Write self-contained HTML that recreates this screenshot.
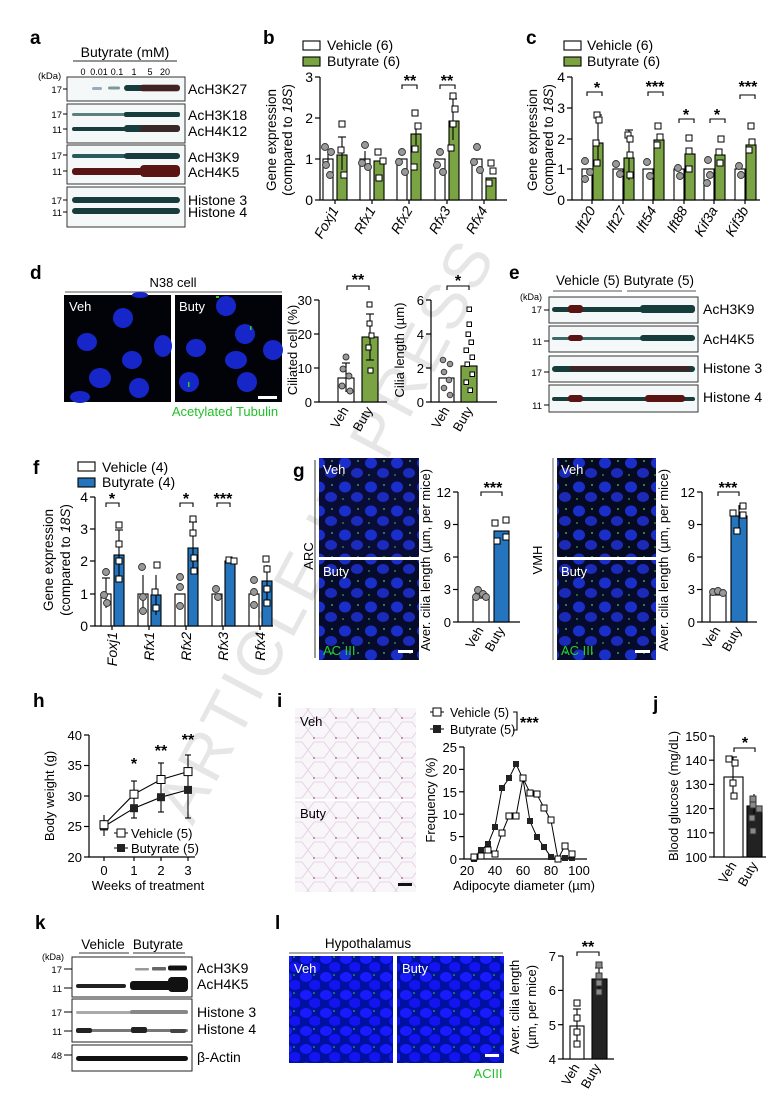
<!DOCTYPE html>
<html><head><meta charset="utf-8"><style>
html,body{margin:0;padding:0;background:#fff;}
svg{display:block;font-family:"Liberation Sans",Arial,sans-serif;}
.pl{font-weight:bold;font-size:19px;}
.t{font-size:13px;}
.s{font-size:10px;}
.ax{stroke:#000;stroke-width:1.2;fill:none;}
.eb{stroke:#000;stroke-width:1.1;}
.vb{fill:#fff;stroke:#000;stroke-width:1.1;}
.gb{fill:#7aa443;stroke:#000;stroke-width:1.1;}
.bb{fill:#2474be;stroke:#000;stroke-width:1.1;}
.kb{fill:#222;stroke:#000;stroke-width:1.1;}
.gc{fill:#999;stroke:#333;stroke-width:0.9;}
.ws{fill:#fff;stroke:#000;stroke-width:1;}
.band{fill:#163c3c;}
.red{fill:#5a1414;}
.box{fill:#f4f8f8;stroke:#333;stroke-width:1;}
</style></head><body>
<svg width="780" height="1112" viewBox="0 0 780 1112" xmlns="http://www.w3.org/2000/svg">
<defs>
<pattern id="nucS" width="26" height="24" patternUnits="userSpaceOnUse">
<rect width="26" height="24" fill="#04060e"/>
<ellipse cx="7" cy="7" rx="6" ry="5.5" fill="#1a30c8"/><ellipse cx="19" cy="17" rx="6" ry="5" fill="#1c2cb4"/>
<circle cx="20" cy="5" r="1" fill="#2ec02e"/><circle cx="5" cy="19" r="0.9" fill="#2ec02e"/>
</pattern>
<pattern id="nucD" width="20" height="18" patternUnits="userSpaceOnUse">
<rect width="20" height="18" fill="#0010a0"/>
<ellipse cx="6" cy="5" rx="6" ry="5" fill="#1a1aff"/><ellipse cx="15" cy="13" rx="6" ry="5" fill="#1414f0"/>
<circle cx="14" cy="3" r="0.8" fill="#33dd33"/>
</pattern>
<pattern id="histo" width="22" height="20" patternUnits="userSpaceOnUse">
<rect width="22" height="20" fill="#f8f6f8"/>
<path d="M0 10 L6 2 L16 2 L22 10 L16 18 L6 18 Z" fill="none" stroke="#e2cce4" stroke-width="0.8"/>
<circle cx="6" cy="18" r="0.9" fill="#b04a9a"/>
</pattern>
</defs>

<!-- watermark -->
<text x="345" y="540" text-anchor="middle" font-size="64" fill="#e6e6e6" transform="rotate(-62 345 540)" letter-spacing="4">ARTICLE IN PRESS</text>

<!-- ===== a ===== -->
<text class="pl" x="30" y="44">a</text>
<text x="125" y="57" text-anchor="middle" font-size="14">Butyrate (mM)</text>
<line x1="73" y1="61" x2="177" y2="61" stroke="#555" stroke-width="1.2"/>
<g text-anchor="middle" font-size="9"><text x="83" y="75">0</text><text x="99" y="75">0.01</text><text x="117" y="75">0.1</text><text x="134" y="75">1</text><text x="150" y="75">5</text><text x="165" y="75">20</text></g>
<text x="38" y="79" font-size="9.5">(kDa)</text>
<rect class="box" x="67" y="77" width="118" height="24"/>
<rect class="box" x="67" y="104" width="118" height="39"/>
<rect class="box" x="67" y="145" width="118" height="39"/>
<rect class="box" x="67" y="187" width="118" height="40"/>
<rect x="92" y="87" width="10" height="3" rx="1.5" fill="#9ab"/><rect x="108" y="86.5" width="12" height="3" rx="1.5" fill="#7a9a9a"/>
<rect x="124" y="85" width="56" height="6" rx="3" class="band"/><rect x="140" y="84.5" width="40" height="7" rx="3" class="red" opacity=".6"/>
<rect x="72" y="113" width="108" height="3" rx="1.5" fill="#5a8080"/><rect x="124" y="112" width="56" height="5" rx="2" class="band"/>
<rect x="72" y="127" width="108" height="4" rx="2" class="band"/><rect x="124" y="125" width="56" height="7" rx="3" class="band"/><rect x="140" y="125" width="40" height="7" rx="3" class="red" opacity=".5"/>
<rect x="72" y="154" width="108" height="4" rx="2" fill="#2a5a5a"/><rect x="124" y="153" width="56" height="6" rx="3" class="band"/>
<rect x="72" y="168" width="108" height="7" rx="3" class="red"/><rect x="140" y="165" width="40" height="12" rx="4" class="red"/>
<rect x="72" y="197" width="108" height="6" rx="3" class="band"/>
<rect x="72" y="208" width="108" height="6" rx="3" class="band"/>
<g font-size="9.5" text-anchor="end"><text x="62" y="93">17</text><text x="62" y="118">17</text><text x="62" y="133">11</text><text x="62" y="159">17</text><text x="62" y="175">11</text><text x="62" y="204">17</text><text x="62" y="216">11</text></g>
<g stroke="#000"><line x1="63" y1="89" x2="67" y2="89"/><line x1="63" y1="114" x2="67" y2="114"/><line x1="63" y1="129" x2="67" y2="129"/><line x1="63" y1="155" x2="67" y2="155"/><line x1="63" y1="171" x2="67" y2="171"/><line x1="63" y1="200" x2="67" y2="200"/><line x1="63" y1="212" x2="67" y2="212"/></g>
<g font-size="14"><text x="188" y="94">AcH3K27</text><text x="188" y="120">AcH3K18</text><text x="188" y="136">AcH4K12</text><text x="188" y="162">AcH3K9</text><text x="188" y="177">AcH4K5</text><text x="188" y="205">Histone 3</text><text x="188" y="217">Histone 4</text></g>

<!-- ===== b ===== -->
<text class="pl" x="263" y="44">b</text>
<rect x="303" y="41" width="17" height="9" class="vb"/><text x="327" y="50" font-size="14">Vehicle (6)</text>
<rect x="303" y="57" width="17" height="9" class="gb"/><text x="327" y="66" font-size="14">Butyrate (6)</text>
<g transform="rotate(-90 276 140)"><text x="276" y="140" text-anchor="middle" font-size="13.5">Gene expression</text></g>
<g transform="rotate(-90 292 140)"><text x="292" y="140" text-anchor="middle" font-size="13.5">(compared to <tspan font-style="italic">18S</tspan>)</text></g>
<path class="ax" d="M320 77 V200 H507"/>
<g class="ax"><line x1="315" y1="77" x2="320" y2="77"/><line x1="315" y1="118" x2="320" y2="118"/><line x1="315" y1="159" x2="320" y2="159"/><line x1="315" y1="200" x2="320" y2="200"/></g>
<g font-size="14" text-anchor="end"><text x="313" y="82">3</text><text x="313" y="123">2</text><text x="313" y="164">1</text><text x="313" y="205">0</text></g>
<rect class="vb" x="323" y="159" width="10" height="41"/><rect class="gb" x="337" y="155" width="10" height="45"/>
<rect class="vb" x="360" y="159" width="10" height="41"/><rect class="gb" x="374" y="161" width="10" height="39"/>
<rect class="vb" x="397" y="159" width="10" height="41"/><rect class="gb" x="411" y="134" width="10" height="66"/>
<rect class="vb" x="435" y="159" width="10" height="41"/><rect class="gb" x="449" y="121" width="10" height="79"/>
<rect class="vb" x="472" y="159" width="10" height="41"/><rect class="gb" x="486" y="178" width="10" height="22"/>
<g class="eb"><line x1="342" y1="137" x2="342" y2="170"/><line x1="338" y1="137" x2="346" y2="137"/><line x1="416" y1="124" x2="416" y2="145"/><line x1="453" y1="99" x2="453" y2="140"/><line x1="449" y1="99" x2="457" y2="99"/><line x1="328" y1="150" x2="328" y2="168"/><line x1="365" y1="151" x2="365" y2="167"/></g>
<g class="gc"><circle cx="325" cy="147" r="3.5"/><circle cx="331" cy="152" r="3.5"/><circle cx="326" cy="165" r="3.5"/><circle cx="330" cy="175" r="3.5"/><circle cx="365" cy="145" r="3.5"/><circle cx="362" cy="163" r="3.5"/><circle cx="368" cy="167" r="3.5"/><circle cx="402" cy="152" r="3.5"/><circle cx="399" cy="162" r="3.5"/><circle cx="405" cy="172" r="3.5"/><circle cx="440" cy="152" r="3.5"/><circle cx="437" cy="165" r="3.5"/><circle cx="443" cy="172" r="3.5"/><circle cx="477" cy="147" r="3.5"/><circle cx="474" cy="162" r="3.5"/><circle cx="480" cy="170" r="3.5"/></g>
<g class="ws"><rect x="339" y="121" width="6" height="6"/><rect x="338" y="147" width="6" height="6"/><rect x="341" y="172" width="6" height="6"/><rect x="375" y="149" width="6" height="6"/><rect x="380" y="158" width="6" height="6"/><rect x="376" y="175" width="6" height="6"/><rect x="412" y="110" width="6" height="6"/><rect x="415" y="123" width="6" height="6"/><rect x="412" y="146" width="6" height="6"/><rect x="411" y="164" width="6" height="6"/><rect x="450" y="93" width="6" height="6"/><rect x="452" y="106" width="6" height="6"/><rect x="450" y="121" width="6" height="6"/><rect x="448" y="145" width="6" height="6"/><rect x="488" y="160" width="6" height="6"/><rect x="490" y="168" width="6" height="6"/><rect x="486" y="180" width="6" height="6"/></g>
<g class="ax"><line x1="335" y1="200" x2="335" y2="204"/><line x1="372" y1="200" x2="372" y2="204"/><line x1="409" y1="200" x2="409" y2="204"/><line x1="447" y1="200" x2="447" y2="204"/><line x1="484" y1="200" x2="484" y2="204"/></g>
<g font-size="14" font-style="italic" text-anchor="end">
<text x="339" y="210" transform="rotate(-60 339 210)">Foxj1</text><text x="376" y="210" transform="rotate(-60 376 210)">Rfx1</text><text x="413" y="210" transform="rotate(-60 413 210)">Rfx2</text><text x="451" y="210" transform="rotate(-60 451 210)">Rfx3</text><text x="488" y="210" transform="rotate(-60 488 210)">Rfx4</text></g>
<path class="eb" fill="none" d="M402 89 V85 H417 V89 M440 89 V85 H455 V89"/>
<g font-size="16" text-anchor="middle" font-weight="bold"><text x="410" y="86">**</text><text x="447" y="86">**</text></g>

<!-- ===== c ===== -->
<text class="pl" x="526" y="44">c</text>
<rect x="564" y="41" width="17" height="9" class="vb"/><text x="587" y="50" font-size="14">Vehicle (6)</text>
<rect x="564" y="57" width="17" height="9" class="gb"/><text x="587" y="66" font-size="14">Butyrate (6)</text>
<g transform="rotate(-90 537 140)"><text x="537" y="140" text-anchor="middle" font-size="13.5">Gene expression</text></g>
<g transform="rotate(-90 553 140)"><text x="553" y="140" text-anchor="middle" font-size="13.5">(compared to <tspan font-style="italic">18S</tspan>)</text></g>
<path class="ax" d="M572 77 V200 H760"/>
<g class="ax"><line x1="567" y1="77" x2="572" y2="77"/><line x1="567" y1="108" x2="572" y2="108"/><line x1="567" y1="139" x2="572" y2="139"/><line x1="567" y1="169" x2="572" y2="169"/><line x1="567" y1="200" x2="572" y2="200"/></g>
<g font-size="14" text-anchor="end"><text x="565" y="82">4</text><text x="565" y="113">3</text><text x="565" y="144">2</text><text x="565" y="174">1</text><text x="565" y="205">0</text></g>
<g class="vb"><rect x="582" y="169" width="10" height="31"/><rect x="613" y="169" width="10" height="31"/><rect x="643" y="169" width="10" height="31"/><rect x="674" y="169" width="10" height="31"/><rect x="704" y="169" width="10" height="31"/><rect x="735" y="169" width="10" height="31"/></g>
<g class="gb"><rect x="593" y="143" width="10" height="57"/><rect x="624" y="158" width="10" height="42"/><rect x="654" y="140" width="10" height="60"/><rect x="685" y="154" width="10" height="46"/><rect x="715" y="155" width="10" height="45"/><rect x="746" y="145" width="10" height="55"/></g>
<g class="eb"><line x1="598" y1="115" x2="598" y2="160"/><line x1="594" y1="115" x2="602" y2="115"/><line x1="629" y1="130" x2="629" y2="180"/><line x1="625" y1="130" x2="633" y2="130"/></g>
<g class="gc"><circle cx="585" cy="161" r="3.5"/><circle cx="590" cy="172" r="3.5"/><circle cx="585" cy="179" r="3.5"/><circle cx="616" cy="164" r="3.5"/><circle cx="620" cy="174" r="3.5"/><circle cx="647" cy="162" r="3.5"/><circle cx="650" cy="176" r="3.5"/><circle cx="678" cy="168" r="3.5"/><circle cx="680" cy="176" r="3.5"/><circle cx="708" cy="160" r="3.5"/><circle cx="710" cy="175" r="3.5"/><circle cx="707" cy="183" r="3.5"/><circle cx="739" cy="166" r="3.5"/><circle cx="741" cy="175" r="3.5"/></g>
<g class="ws"><rect x="594" y="112" width="6" height="6"/><rect x="596" y="117" width="6" height="6"/><rect x="593" y="140" width="6" height="6"/><rect x="594" y="160" width="6" height="6"/><rect x="625" y="132" width="6" height="6"/><rect x="627" y="136" width="6" height="6"/><rect x="627" y="152" width="6" height="6"/><rect x="627" y="172" width="6" height="6"/><rect x="655" y="123" width="6" height="6"/><rect x="657" y="134" width="6" height="6"/><rect x="654" y="142" width="6" height="6"/><rect x="686" y="135" width="6" height="6"/><rect x="686" y="148" width="6" height="6"/><rect x="686" y="166" width="6" height="6"/><rect x="718" y="136" width="6" height="6"/><rect x="716" y="149" width="6" height="6"/><rect x="717" y="160" width="6" height="6"/><rect x="748" y="123" width="6" height="6"/><rect x="749" y="139" width="6" height="6"/><rect x="746" y="147" width="6" height="6"/></g>
<g class="ax"><line x1="592" y1="200" x2="592" y2="204"/><line x1="623" y1="200" x2="623" y2="204"/><line x1="653" y1="200" x2="653" y2="204"/><line x1="684" y1="200" x2="684" y2="204"/><line x1="714" y1="200" x2="714" y2="204"/><line x1="745" y1="200" x2="745" y2="204"/></g>
<g font-size="14" font-style="italic" text-anchor="end">
<text x="596" y="210" transform="rotate(-60 596 210)">Ift20</text><text x="627" y="210" transform="rotate(-60 627 210)">Ift27</text><text x="657" y="210" transform="rotate(-60 657 210)">Ift54</text><text x="688" y="210" transform="rotate(-60 688 210)">Ift88</text><text x="718" y="210" transform="rotate(-60 718 210)">Kif3a</text><text x="749" y="210" transform="rotate(-60 749 210)">Kif3b</text></g>
<path class="eb" fill="none" d="M587 96 V92 H602 V96 M648 96 V92 H663 V96 M679 123 V119 H694 V123 M710 123 V119 H725 V123 M740 99 V95 H755 V99"/>
<g font-size="16" text-anchor="middle" font-weight="bold"><text x="597" y="93">*</text><text x="655" y="92">***</text><text x="686" y="120">*</text><text x="717" y="120">*</text><text x="748" y="92">***</text></g>

<!-- ===== d ===== -->
<text class="pl" x="30" y="279">d</text>
<text x="173" y="287" text-anchor="middle" font-size="13">N38 cell</text>
<line x1="65" y1="292" x2="282" y2="292" stroke="#777" stroke-width="1.2"/>
<rect x="64" y="295" width="107" height="107" fill="#020308"/>
<rect x="175" y="295" width="107" height="107" fill="#020308"/>
<g fill="#1626c8">
<ellipse cx="123" cy="318" rx="10" ry="10"/><ellipse cx="87" cy="342" rx="10" ry="9"/><ellipse cx="163" cy="346" rx="9" ry="11"/><ellipse cx="132" cy="360" rx="10" ry="9"/><ellipse cx="100" cy="378" rx="11" ry="10"/><ellipse cx="139" cy="388" rx="10" ry="10"/><ellipse cx="80" cy="397" rx="10" ry="6"/><ellipse cx="140" cy="295" rx="8" ry="3"/>
<ellipse cx="226" cy="306" rx="10" ry="10"/><ellipse cx="245" cy="334" rx="10" ry="10"/><ellipse cx="196" cy="348" rx="10" ry="9"/><ellipse cx="236" cy="360" rx="11" ry="9"/><ellipse cx="273" cy="350" rx="10" ry="10"/><ellipse cx="247" cy="382" rx="10" ry="10"/><ellipse cx="189" cy="382" rx="10" ry="10"/></g>
<g fill="#2ad02a"><rect x="250" y="326" width="1.5" height="4"/><rect x="188" y="382" width="1.5" height="5"/><rect x="216" y="296" width="3" height="2"/></g>
<text x="69" y="311" fill="#fff" font-size="13">Veh</text><text x="179" y="311" fill="#fff" font-size="13">Buty</text>
<rect x="258" y="396" width="19" height="3" fill="#fff"/>
<text x="225" y="416" text-anchor="middle" fill="#22c02a" font-size="13">Acetylated Tubulin</text>
<g transform="rotate(-90 297 350)"><text x="297" y="350" text-anchor="middle" font-size="13">Ciliated cell (%)</text></g>
<path class="ax" d="M319 300 V402 H387"/>
<g class="ax"><line x1="314" y1="300" x2="319" y2="300"/><line x1="314" y1="334" x2="319" y2="334"/><line x1="314" y1="368" x2="319" y2="368"/><line x1="314" y1="402" x2="319" y2="402"/></g>
<g font-size="13" text-anchor="end"><text x="312" y="305">30</text><text x="312" y="339">20</text><text x="312" y="373">10</text><text x="312" y="407">0</text></g>
<rect class="vb" x="338" y="378" width="16" height="24"/><rect class="gb" x="362" y="337" width="16" height="65"/>
<g class="eb"><line x1="346" y1="363" x2="346" y2="392"/><line x1="342" y1="363" x2="350" y2="363"/><line x1="370" y1="314" x2="370" y2="360"/><line x1="366" y1="314" x2="374" y2="314"/><line x1="366" y1="360" x2="374" y2="360"/></g>
<g class="gc"><circle cx="346" cy="357" r="3"/><circle cx="343" cy="369" r="3"/><circle cx="349" cy="376" r="3"/><circle cx="342" cy="386" r="3"/><circle cx="350" cy="391" r="3"/></g>
<g class="ws"><rect x="367" y="302" width="5" height="5"/><rect x="367" y="321" width="5" height="5"/><rect x="369" y="333" width="5" height="5"/><rect x="366" y="345" width="5" height="5"/><rect x="368" y="368" width="5" height="5"/></g>
<path class="eb" fill="none" d="M347 290 V286 H369 V290"/><text x="358" y="285" text-anchor="middle" font-size="16" font-weight="bold">**</text>
<text x="349" y="410" text-anchor="end" font-size="13" transform="rotate(-60 349 410)">Veh</text>
<text x="373" y="410" text-anchor="end" font-size="13" transform="rotate(-60 373 410)">Buty</text>
<g transform="rotate(-90 404 350)"><text x="404" y="350" text-anchor="middle" font-size="13">Cilia length (µm)</text></g>
<path class="ax" d="M431 300 V402 H497"/>
<g class="ax"><line x1="426" y1="300" x2="431" y2="300"/><line x1="426" y1="334" x2="431" y2="334"/><line x1="426" y1="368" x2="431" y2="368"/><line x1="426" y1="402" x2="431" y2="402"/></g>
<g font-size="13" text-anchor="end"><text x="424" y="305">6</text><text x="424" y="339">4</text><text x="424" y="373">2</text><text x="424" y="407">0</text></g>
<rect class="vb" x="439" y="378" width="15" height="24"/><rect class="gb" x="461" y="366" width="16" height="36"/>
<g class="gc"><circle cx="443" cy="360" r="2.8"/><circle cx="450" cy="364" r="2.8"/><circle cx="444" cy="372" r="2.8"/><circle cx="449" cy="380" r="2.8"/><circle cx="444" cy="388" r="2.8"/><circle cx="450" cy="395" r="2.8"/></g>
<g class="ws"><rect x="467" y="307" width="4.5" height="4.5"/><rect x="467" y="322" width="4.5" height="4.5"/><rect x="466" y="332" width="4.5" height="4.5"/><rect x="469" y="340" width="4.5" height="4.5"/><rect x="464" y="348" width="4.5" height="4.5"/><rect x="470" y="355" width="4.5" height="4.5"/><rect x="465" y="362" width="4.5" height="4.5"/><rect x="470" y="372" width="4.5" height="4.5"/><rect x="464" y="380" width="4.5" height="4.5"/><rect x="468" y="388" width="4.5" height="4.5"/></g>
<path class="eb" fill="none" d="M447 290 V286 H469 V290"/><text x="458" y="286" text-anchor="middle" font-size="16" font-weight="bold">*</text>
<text x="450" y="410" text-anchor="end" font-size="13" transform="rotate(-60 450 410)">Veh</text>
<text x="473" y="410" text-anchor="end" font-size="13" transform="rotate(-60 473 410)">Buty</text>

<!-- ===== e ===== -->
<text class="pl" x="509" y="279">e</text>
<text x="625" y="285" text-anchor="middle" font-size="13.5">Vehicle (5) Butyrate (5)</text>
<line x1="553" y1="291" x2="622" y2="291" stroke="#555"/><line x1="627" y1="291" x2="696" y2="291" stroke="#555"/>
<text x="520" y="300" font-size="9">(kDa)</text>
<rect class="box" x="549" y="297" width="149" height="26"/><rect class="box" x="549" y="326" width="149" height="26"/><rect class="box" x="549" y="356" width="149" height="26"/><rect class="box" x="549" y="385" width="149" height="27"/>
<rect x="552" y="307" width="143" height="5" rx="2.5" class="band"/><rect x="568" y="305" width="15" height="8" rx="3" class="red"/><rect x="640" y="305" width="55" height="8" rx="3" class="band"/>
<rect x="552" y="337" width="143" height="3" rx="1.5" fill="#3a6a6a"/><rect x="568" y="335" width="15" height="6" rx="3" class="red"/><rect x="640" y="335" width="55" height="6" rx="3" class="band"/>
<rect x="552" y="366" width="143" height="6" rx="3" class="band"/><rect x="570" y="366" width="120" height="5" rx="2" class="red" opacity=".6"/>
<rect x="552" y="397" width="143" height="4" rx="2" class="band"/><rect x="568" y="395" width="15" height="7" rx="3" class="red"/><rect x="645" y="395" width="40" height="7" rx="3" class="red"/>
<g font-size="9.5" text-anchor="end"><text x="542" y="313">17</text><text x="542" y="345">11</text><text x="542" y="376">17</text><text x="542" y="409">11</text></g>
<g stroke="#000"><line x1="544" y1="310" x2="549" y2="310"/><line x1="544" y1="341" x2="549" y2="341"/><line x1="544" y1="372" x2="549" y2="372"/><line x1="544" y1="405" x2="549" y2="405"/></g>
<g font-size="14"><text x="703" y="314">AcH3K9</text><text x="703" y="344">AcH4K5</text><text x="703" y="373">Histone 3</text><text x="703" y="402">Histone 4</text></g>

<!-- ===== f ===== -->
<text class="pl" x="33" y="474">f</text>
<rect x="78" y="462" width="17" height="9" class="vb"/><text x="102" y="472" font-size="14">Vehicle (4)</text>
<rect x="78" y="478" width="17" height="9" class="bb"/><text x="102" y="487" font-size="14">Butyrate (4)</text>
<g transform="rotate(-90 53 560)"><text x="53" y="560" text-anchor="middle" font-size="13.5">Gene expression</text></g>
<g transform="rotate(-90 70 560)"><text x="70" y="560" text-anchor="middle" font-size="13.5">(compared to <tspan font-style="italic">18S</tspan>)</text></g>
<path class="ax" d="M95 497 V626 H273"/>
<g class="ax"><line x1="90" y1="497" x2="95" y2="497"/><line x1="90" y1="529" x2="95" y2="529"/><line x1="90" y1="561" x2="95" y2="561"/><line x1="90" y1="594" x2="95" y2="594"/><line x1="90" y1="626" x2="95" y2="626"/></g>
<g font-size="14" text-anchor="end"><text x="88" y="502">4</text><text x="88" y="534">3</text><text x="88" y="566">2</text><text x="88" y="599">1</text><text x="88" y="631">0</text></g>
<g class="vb"><rect x="101" y="594" width="10" height="32"/><rect x="138" y="594" width="10" height="32"/><rect x="175" y="594" width="10" height="32"/><rect x="212" y="594" width="10" height="32"/><rect x="249" y="594" width="10" height="32"/></g>
<g class="bb"><rect x="114" y="555" width="10" height="71"/><rect x="151" y="595" width="10" height="31"/><rect x="188" y="548" width="10" height="78"/><rect x="225" y="561" width="10" height="65"/><rect x="262" y="581" width="10" height="45"/></g>
<g class="eb"><line x1="106" y1="578" x2="106" y2="608"/><line x1="102" y1="578" x2="110" y2="578"/><line x1="119" y1="530" x2="119" y2="578"/><line x1="115" y1="530" x2="123" y2="530"/><line x1="143" y1="575" x2="143" y2="610"/><line x1="156" y1="575" x2="156" y2="615"/><line x1="193" y1="522" x2="193" y2="574"/><line x1="189" y1="522" x2="197" y2="522"/><line x1="267" y1="565" x2="267" y2="600"/></g>
<g class="gc"><circle cx="106" cy="572" r="3.5"/><circle cx="104" cy="595" r="3.5"/><circle cx="107" cy="603" r="3.5"/><circle cx="142" cy="567" r="3.5"/><circle cx="143" cy="597" r="3.5"/><circle cx="143" cy="611" r="3.5"/><circle cx="180" cy="577" r="3.5"/><circle cx="180" cy="587" r="3.5"/><circle cx="180" cy="606" r="3.5"/><circle cx="216" cy="589" r="3.5"/><circle cx="218" cy="597" r="3.5"/><circle cx="254" cy="580" r="3.5"/><circle cx="254" cy="592" r="3.5"/><circle cx="254" cy="605" r="3.5"/></g>
<g class="ws"><rect x="116" y="522" width="6" height="6"/><rect x="116" y="541" width="6" height="6"/><rect x="116" y="558" width="6" height="6"/><rect x="116" y="576" width="6" height="6"/><rect x="154" y="562" width="6" height="6"/><rect x="152" y="589" width="6" height="6"/><rect x="153" y="605" width="6" height="6"/><rect x="190" y="516" width="6" height="6"/><rect x="190" y="530" width="6" height="6"/><rect x="191" y="555" width="6" height="6"/><rect x="191" y="568" width="6" height="6"/><rect x="226" y="557" width="6" height="6"/><rect x="231" y="558" width="6" height="6"/><rect x="263" y="556" width="6" height="6"/><rect x="264" y="566" width="6" height="6"/><rect x="264" y="586" width="6" height="6"/><rect x="264" y="600" width="6" height="6"/></g>
<g class="ax"><line x1="112" y1="626" x2="112" y2="630"/><line x1="149" y1="626" x2="149" y2="630"/><line x1="186" y1="626" x2="186" y2="630"/><line x1="223" y1="626" x2="223" y2="630"/><line x1="260" y1="626" x2="260" y2="630"/></g>
<g font-size="14" font-style="italic" text-anchor="end">
<text x="117" y="632" transform="rotate(-90 117 632)">Foxj1</text><text x="154" y="632" transform="rotate(-90 154 632)">Rfx1</text><text x="191" y="632" transform="rotate(-90 191 632)">Rfx2</text><text x="228" y="632" transform="rotate(-90 228 632)">Rfx3</text><text x="265" y="632" transform="rotate(-90 265 632)">Rfx4</text></g>
<path class="eb" fill="none" d="M106 507 V503 H119 V507 M180 507 V503 H193 V507 M217 507 V503 H230 V507"/>
<g font-size="16" text-anchor="middle" font-weight="bold"><text x="112" y="504">*</text><text x="186" y="504">*</text><text x="223" y="504">***</text></g>

<!-- ===== g ===== -->
<text class="pl" x="293" y="477">g</text>
<line x1="315" y1="460" x2="315" y2="658" stroke="#333" stroke-width="1"/>
<text x="313" y="556" text-anchor="middle" font-size="13" transform="rotate(-90 313 556)">ARC</text>
<rect x="319" y="458" width="100" height="99" fill="url(#nucS)"/>
<rect x="319" y="560" width="100" height="100" fill="url(#nucS)"/>
<rect x="319" y="458" width="100" height="99" fill="#1a2ad8" opacity=".2"/>
<rect x="319" y="560" width="100" height="100" fill="#1a2ad8" opacity=".15"/>
<text x="323" y="474" fill="#fff" font-size="13">Veh</text><text x="323" y="576" fill="#fff" font-size="13">Buty</text>
<text x="323" y="655" fill="#22d022" font-size="13">AC III</text>
<rect x="398" y="650" width="15" height="3" fill="#fff"/>
<g transform="rotate(-90 430 560)"><text x="430" y="560" text-anchor="middle" font-size="13">Aver. cilia length (µm, per mice)</text></g>
<path class="ax" d="M458 492 V622 H520"/>
<g class="ax"><line x1="453" y1="492" x2="458" y2="492"/><line x1="453" y1="524.5" x2="458" y2="524.5"/><line x1="453" y1="557" x2="458" y2="557"/><line x1="453" y1="589.5" x2="458" y2="589.5"/><line x1="453" y1="622" x2="458" y2="622"/></g>
<g font-size="13" text-anchor="end"><text x="451" y="497">12</text><text x="451" y="529">9</text><text x="451" y="562">6</text><text x="451" y="594">3</text><text x="451" y="627">0</text></g>
<rect class="vb" x="473" y="598" width="16" height="24"/><rect class="bb" x="494" y="531" width="15" height="91"/>
<g class="gc"><circle cx="478" cy="590" r="3.5"/><circle cx="483" cy="594" r="3.5"/><circle cx="476" cy="597" r="3.5"/><circle cx="486" cy="597" r="3.5"/></g>
<g class="ws"><rect x="492" y="520" width="6" height="6"/><rect x="503" y="517" width="6" height="6"/><rect x="494" y="538" width="6" height="6"/><rect x="503" y="534" width="6" height="6"/></g>
<path class="eb" fill="none" d="M481 496 V492 H502 V496"/><text x="493" y="493" text-anchor="middle" font-size="16" font-weight="bold">***</text>
<text x="484" y="630" text-anchor="end" font-size="13" transform="rotate(-60 484 630)">Veh</text>
<text x="505" y="630" text-anchor="end" font-size="13" transform="rotate(-60 505 630)">Buty</text>

<line x1="553" y1="458" x2="553" y2="660" stroke="#999" stroke-width="1.5"/>
<text x="542" y="560" text-anchor="middle" font-size="13" transform="rotate(-90 542 560)">VMH</text>
<rect x="557" y="458" width="99" height="99" fill="url(#nucS)"/>
<rect x="557" y="560" width="99" height="100" fill="url(#nucS)"/>
<rect x="557" y="458" width="99" height="99" fill="#1a2ad8" opacity=".1"/>
<rect x="557" y="560" width="99" height="100" fill="#1a2ad8" opacity=".15"/>
<text x="561" y="474" fill="#fff" font-size="13">Veh</text><text x="561" y="576" fill="#fff" font-size="13">Buty</text>
<text x="561" y="655" fill="#22d022" font-size="13">AC III</text>
<rect x="635" y="650" width="15" height="3" fill="#fff"/>
<g transform="rotate(-90 668 560)"><text x="668" y="560" text-anchor="middle" font-size="13">Aver. cilia length (µm, per mice)</text></g>
<path class="ax" d="M702 492 V622 H757"/>
<g class="ax"><line x1="697" y1="492" x2="702" y2="492"/><line x1="697" y1="524.5" x2="702" y2="524.5"/><line x1="697" y1="557" x2="702" y2="557"/><line x1="697" y1="589.5" x2="702" y2="589.5"/><line x1="697" y1="622" x2="702" y2="622"/></g>
<g font-size="13" text-anchor="end"><text x="695" y="497">12</text><text x="695" y="529">9</text><text x="695" y="562">6</text><text x="695" y="594">3</text><text x="695" y="627">0</text></g>
<rect class="vb" x="710" y="595" width="16" height="27"/><rect class="bb" x="731" y="516" width="16" height="106"/>
<g class="eb"><line x1="739" y1="505" x2="739" y2="528"/></g>
<g class="gc"><circle cx="713" cy="592" r="3.5"/><circle cx="718" cy="591" r="3.5"/><circle cx="723" cy="593" r="3.5"/></g>
<g class="ws"><rect x="730" y="510" width="6" height="6"/><rect x="740" y="503" width="6" height="6"/><rect x="740" y="512" width="6" height="6"/><rect x="734" y="528" width="6" height="6"/></g>
<path class="eb" fill="none" d="M718 496 V492 H739 V496"/><text x="728" y="493" text-anchor="middle" font-size="16" font-weight="bold">***</text>
<text x="721" y="630" text-anchor="end" font-size="13" transform="rotate(-60 721 630)">Veh</text>
<text x="742" y="630" text-anchor="end" font-size="13" transform="rotate(-60 742 630)">Buty</text>

<!-- ===== h ===== -->
<text class="pl" x="33" y="707">h</text>
<g transform="rotate(-90 54 796)"><text x="54" y="796" text-anchor="middle" font-size="13">Body weight (g)</text></g>
<path class="ax" d="M89 735 V857 H195"/>
<g class="ax"><line x1="84" y1="735" x2="89" y2="735"/><line x1="84" y1="765.5" x2="89" y2="765.5"/><line x1="84" y1="796" x2="89" y2="796"/><line x1="84" y1="826.5" x2="89" y2="826.5"/><line x1="84" y1="857" x2="89" y2="857"/><line x1="104" y1="857" x2="104" y2="861"/><line x1="134" y1="857" x2="134" y2="861"/><line x1="161" y1="857" x2="161" y2="861"/><line x1="188" y1="857" x2="188" y2="861"/></g>
<g font-size="13" text-anchor="end"><text x="82" y="740">40</text><text x="82" y="770">35</text><text x="82" y="801">30</text><text x="82" y="831">25</text><text x="82" y="862">20</text></g>
<g font-size="13" text-anchor="middle"><text x="104" y="875">0</text><text x="134" y="875">1</text><text x="161" y="875">2</text><text x="188" y="875">3</text><text x="148" y="890">Weeks of treatment</text></g>
<g class="eb"><line x1="104" y1="815" x2="104" y2="836"/><line x1="134" y1="781" x2="134" y2="818"/><line x1="161" y1="763" x2="161" y2="812"/><line x1="188" y1="755" x2="188" y2="818"/><line x1="131" y1="781" x2="137" y2="781"/><line x1="158" y1="763" x2="164" y2="763"/><line x1="185" y1="755" x2="191" y2="755"/><line x1="131" y1="818" x2="137" y2="818"/><line x1="158" y1="812" x2="164" y2="812"/><line x1="185" y1="818" x2="191" y2="818"/></g>
<polyline points="104,824.7 134,794.2 161,779.5 188,771.6" fill="none" stroke="#000" stroke-width="1.1"/>
<polyline points="104,826.5 134,808.2 161,797.2 188,789.9" fill="none" stroke="#000" stroke-width="1.1"/>
<g fill="#222"><rect x="100" y="822.5" width="8" height="8"/><rect x="130" y="804.2" width="8" height="8"/><rect x="157" y="793.2" width="8" height="8"/><rect x="184" y="785.9" width="8" height="8"/></g>
<g class="ws"><rect x="100" y="820.7" width="8" height="8"/><rect x="130" y="790.2" width="8" height="8"/><rect x="157" y="775.5" width="8" height="8"/><rect x="184" y="767.6" width="8" height="8"/></g>
<g font-size="16" text-anchor="middle" font-weight="bold"><text x="134" y="769">*</text><text x="161" y="756">**</text><text x="188" y="745">**</text></g>
<line x1="114" y1="833" x2="128" y2="833" stroke="#000"/><rect x="117" y="829" width="8" height="8" class="ws"/><text x="131" y="838" font-size="13">Vehicle (5)</text>
<line x1="114" y1="848" x2="128" y2="848" stroke="#000"/><rect x="117" y="844" width="8" height="8" fill="#222"/><text x="131" y="853" font-size="13">Butyrate (5)</text>

<!-- ===== i ===== -->
<text class="pl" x="277" y="707">i</text>
<rect x="295" y="708" width="121" height="91" fill="url(#histo)"/>
<rect x="295" y="801" width="121" height="91" fill="url(#histo)"/>
<text x="300" y="726" font-size="13">Veh</text><text x="300" y="818" font-size="13">Buty</text>
<rect x="398" y="883" width="14" height="3" fill="#111"/>
<line x1="430" y1="712" x2="444" y2="712" stroke="#000"/><rect x="433" y="708" width="8" height="8" class="ws"/><text x="450" y="717" font-size="12.5">Vehicle (5)</text>
<line x1="430" y1="729" x2="444" y2="729" stroke="#000"/><rect x="433" y="725" width="8" height="8" fill="#222"/><text x="450" y="734" font-size="12.5">Butyrate (5)</text>
<path class="eb" fill="none" d="M513 712 H517 V730 H513"/><text x="520" y="728" font-size="16" font-weight="bold">***</text>
<g transform="rotate(-90 435 800)"><text x="435" y="800" text-anchor="middle" font-size="13">Frequency (%)</text></g>
<path class="ax" d="M464 747 V859 H587"/>
<g class="ax"><line x1="459" y1="747" x2="464" y2="747"/><line x1="459" y1="769.4" x2="464" y2="769.4"/><line x1="459" y1="791.8" x2="464" y2="791.8"/><line x1="459" y1="814.2" x2="464" y2="814.2"/><line x1="459" y1="836.6" x2="464" y2="836.6"/><line x1="459" y1="859" x2="464" y2="859"/></g>
<g font-size="13" text-anchor="end"><text x="457" y="752">25</text><text x="457" y="774">20</text><text x="457" y="797">15</text><text x="457" y="819">10</text><text x="457" y="841">5</text><text x="457" y="864">0</text></g>
<g font-size="13" text-anchor="middle"><text x="467" y="875">20</text><text x="495" y="875">40</text><text x="523" y="875">60</text><text x="551" y="875">80</text><text x="579" y="875">100</text><text x="524" y="890">Adipocyte diameter (µm)</text></g>
<polyline fill="none" stroke="#000" stroke-width="1" points="474,859 481,850 488,844.2 495,826.7 502,788.2 509,778.4 516,764 523,778.9 530,821.4 537,837 544,846.9 551,857.2 558,859 565,857.7 572,858"/>
<polyline fill="none" stroke="#000" stroke-width="1" points="474,856.8 481,855.9 488,850 495,854.5 502,833 509,816 516,816 523,778.4 530,792.7 537,794.5 544,807.9 551,820.5 558,859 565,845.6 572,854.5"/>
<g fill="#222"><rect x="471" y="856" width="6" height="6"/><rect x="478" y="847" width="6" height="6"/><rect x="485" y="841" width="6" height="6"/><rect x="492" y="824" width="6" height="6"/><rect x="499" y="785" width="6" height="6"/><rect x="506" y="775" width="6" height="6"/><rect x="513" y="761" width="6" height="6"/><rect x="527" y="818" width="6" height="6"/><rect x="534" y="834" width="6" height="6"/><rect x="541" y="844" width="6" height="6"/><rect x="548" y="854" width="6" height="6"/><rect x="562" y="855" width="6" height="6"/><rect x="569" y="855" width="6" height="6"/></g>
<g class="ws"><rect x="471" y="854" width="6" height="6"/><rect x="478" y="853" width="6" height="6"/><rect x="485" y="847" width="6" height="6"/><rect x="492" y="851" width="6" height="6"/><rect x="499" y="830" width="6" height="6"/><rect x="506" y="813" width="6" height="6"/><rect x="513" y="813" width="6" height="6"/><rect x="520" y="775" width="6" height="6"/><rect x="527" y="790" width="6" height="6"/><rect x="534" y="791" width="6" height="6"/><rect x="541" y="805" width="6" height="6"/><rect x="548" y="817" width="6" height="6"/><rect x="555" y="856" width="6" height="6"/><rect x="562" y="843" width="6" height="6"/><rect x="569" y="851" width="6" height="6"/></g>

<!-- ===== j ===== -->
<text class="pl" x="653" y="710">j</text>
<g transform="rotate(-90 678 796)"><text x="678" y="796" text-anchor="middle" font-size="13">Blood glucose (mg/dL)</text></g>
<path class="ax" d="M714 736 V857 H766"/>
<g class="ax"><line x1="709" y1="736" x2="714" y2="736"/><line x1="709" y1="760.2" x2="714" y2="760.2"/><line x1="709" y1="784.4" x2="714" y2="784.4"/><line x1="709" y1="808.6" x2="714" y2="808.6"/><line x1="709" y1="832.8" x2="714" y2="832.8"/><line x1="709" y1="857" x2="714" y2="857"/></g>
<g font-size="13" text-anchor="end"><text x="707" y="741">150</text><text x="707" y="765">140</text><text x="707" y="789">130</text><text x="707" y="814">120</text><text x="707" y="838">110</text><text x="707" y="862">100</text></g>
<rect class="vb" x="724" y="777" width="19" height="80"/><rect class="kb" x="747" y="806" width="15" height="51"/>
<g class="eb"><line x1="733" y1="757" x2="733" y2="797"/><line x1="729" y1="757" x2="737" y2="757"/><line x1="754" y1="794" x2="754" y2="818"/></g>
<g class="ws"><rect x="726" y="756" width="6" height="6"/><rect x="732" y="760" width="6" height="6"/><rect x="730" y="780" width="6" height="6"/><rect x="731" y="793" width="6" height="6"/></g>
<g fill="#888" stroke="#333"><rect x="750" y="796" width="6" height="6"/><rect x="750" y="802" width="6" height="6"/><rect x="756" y="806" width="6" height="6"/><rect x="749" y="815" width="6" height="6"/><rect x="750" y="828" width="6" height="6"/></g>
<path class="eb" fill="none" d="M734 752 V748 H755 V752"/><text x="745" y="748" text-anchor="middle" font-size="16" font-weight="bold">*</text>
<text x="737" y="865" text-anchor="end" font-size="13" transform="rotate(-60 737 865)">Veh</text>
<text x="758" y="865" text-anchor="end" font-size="13" transform="rotate(-60 758 865)">Buty</text>

<!-- ===== k ===== -->
<text class="pl" x="35" y="929">k</text>
<text x="103" y="949" text-anchor="middle" font-size="13.5">Vehicle</text><text x="158" y="949" text-anchor="middle" font-size="13.5">Butyrate</text>
<line x1="79" y1="953" x2="129" y2="953" stroke="#333"/><line x1="133" y1="953" x2="185" y2="953" stroke="#333"/>
<text x="42" y="960" font-size="9">(kDa)</text>
<rect x="72" y="957" width="120" height="40" fill="#fff" stroke="#222"/><rect x="72" y="999" width="120" height="43" fill="#fff" stroke="#222"/><rect x="72" y="1045" width="120" height="26" fill="#fff" stroke="#222"/>
<rect x="135" y="968" width="14" height="2.5" rx="1" fill="#999"/><rect x="152" y="967" width="14" height="3.5" rx="1" fill="#666"/><rect x="168" y="965.5" width="19" height="5" rx="2" fill="#111"/>
<rect x="76" y="984" width="50" height="4" rx="2" fill="#222"/><rect x="130" y="981" width="58" height="9" rx="3" fill="#111"/><rect x="168" y="977" width="20" height="15" rx="4" fill="#111"/>
<rect x="76" y="1011" width="112" height="3" rx="1.5" fill="#aaa"/><rect x="130" y="1010" width="58" height="4" rx="2" fill="#888"/>
<rect x="76" y="1029" width="112" height="3" rx="1.5" fill="#777"/><rect x="76" y="1028" width="16" height="5" rx="2" fill="#222"/><rect x="131" y="1027" width="16" height="6" rx="2" fill="#222"/><rect x="170" y="1029" width="16" height="4" rx="2" fill="#444"/>
<rect x="76" y="1056" width="112" height="5" rx="2.5" fill="#111"/>
<g font-size="9.5" text-anchor="end"><text x="62" y="973">17</text><text x="62" y="992">11</text><text x="62" y="1016">17</text><text x="62" y="1035">11</text><text x="62" y="1059">48</text></g>
<g stroke="#000"><line x1="64" y1="969" x2="72" y2="969"/><line x1="64" y1="988" x2="72" y2="988"/><line x1="64" y1="1012" x2="72" y2="1012"/><line x1="64" y1="1031" x2="72" y2="1031"/><line x1="64" y1="1055" x2="72" y2="1055"/></g>
<g font-size="14"><text x="197" y="973">AcH3K9</text><text x="197" y="989">AcH4K5</text><text x="197" y="1017">Histone 3</text><text x="197" y="1034">Histone 4</text><text x="197" y="1062">β-Actin</text></g>

<!-- ===== l ===== -->
<text class="pl" x="275" y="929">l</text>
<text x="368" y="948" text-anchor="middle" font-size="13.5">Hypothalamus</text>
<line x1="289" y1="953" x2="503" y2="953" stroke="#777" stroke-width="1.2"/>
<rect x="289" y="956" width="104" height="107" fill="url(#nucD)"/>
<rect x="397" y="956" width="107" height="107" fill="url(#nucD)"/>
<text x="294" y="973" fill="#fff" font-size="13">Veh</text><text x="402" y="973" fill="#fff" font-size="13">Buty</text>
<rect x="485" y="1054" width="14" height="3" fill="#fff"/>
<text x="488" y="1078" text-anchor="middle" fill="#22c02a" font-size="13">ACIII</text>
<g transform="rotate(-90 519 1007)"><text x="519" y="1007" text-anchor="middle" font-size="13">Aver. cilia length</text></g>
<g transform="rotate(-90 536 1007)"><text x="536" y="1007" text-anchor="middle" font-size="13">(µm, per mice)</text></g>
<path class="ax" d="M563 956 V1059 H614"/>
<g class="ax"><line x1="558" y1="956" x2="563" y2="956"/><line x1="558" y1="990.4" x2="563" y2="990.4"/><line x1="558" y1="1024.7" x2="563" y2="1024.7"/><line x1="558" y1="1059" x2="563" y2="1059"/></g>
<g font-size="13" text-anchor="end"><text x="556" y="961">7</text><text x="556" y="995">6</text><text x="556" y="1030">5</text><text x="556" y="1064">4</text></g>
<rect class="vb" x="570" y="1026" width="14" height="33"/><rect class="kb" x="592" y="979" width="15" height="80"/>
<g class="eb"><line x1="577" y1="1009" x2="577" y2="1044"/><line x1="573" y1="1009" x2="581" y2="1009"/><line x1="599" y1="968" x2="599" y2="990"/><line x1="595" y1="968" x2="603" y2="968"/></g>
<g class="ws"><rect x="574" y="1000" width="6" height="6"/><rect x="574" y="1015" width="6" height="6"/><rect x="574" y="1029" width="6" height="6"/><rect x="574" y="1041" width="6" height="6"/></g>
<g fill="#888" stroke="#333"><rect x="596" y="962" width="6" height="6"/><rect x="596" y="973" width="6" height="6"/><rect x="596" y="980" width="6" height="6"/><rect x="596" y="989" width="6" height="6"/></g>
<path class="eb" fill="none" d="M577 956 V952 H599 V956"/><text x="588" y="952" text-anchor="middle" font-size="16" font-weight="bold">**</text>
<text x="580" y="1067" text-anchor="end" font-size="13" transform="rotate(-60 580 1067)">Veh</text>
<text x="601" y="1067" text-anchor="end" font-size="13" transform="rotate(-60 601 1067)">Buty</text>
</svg>
</body></html>
